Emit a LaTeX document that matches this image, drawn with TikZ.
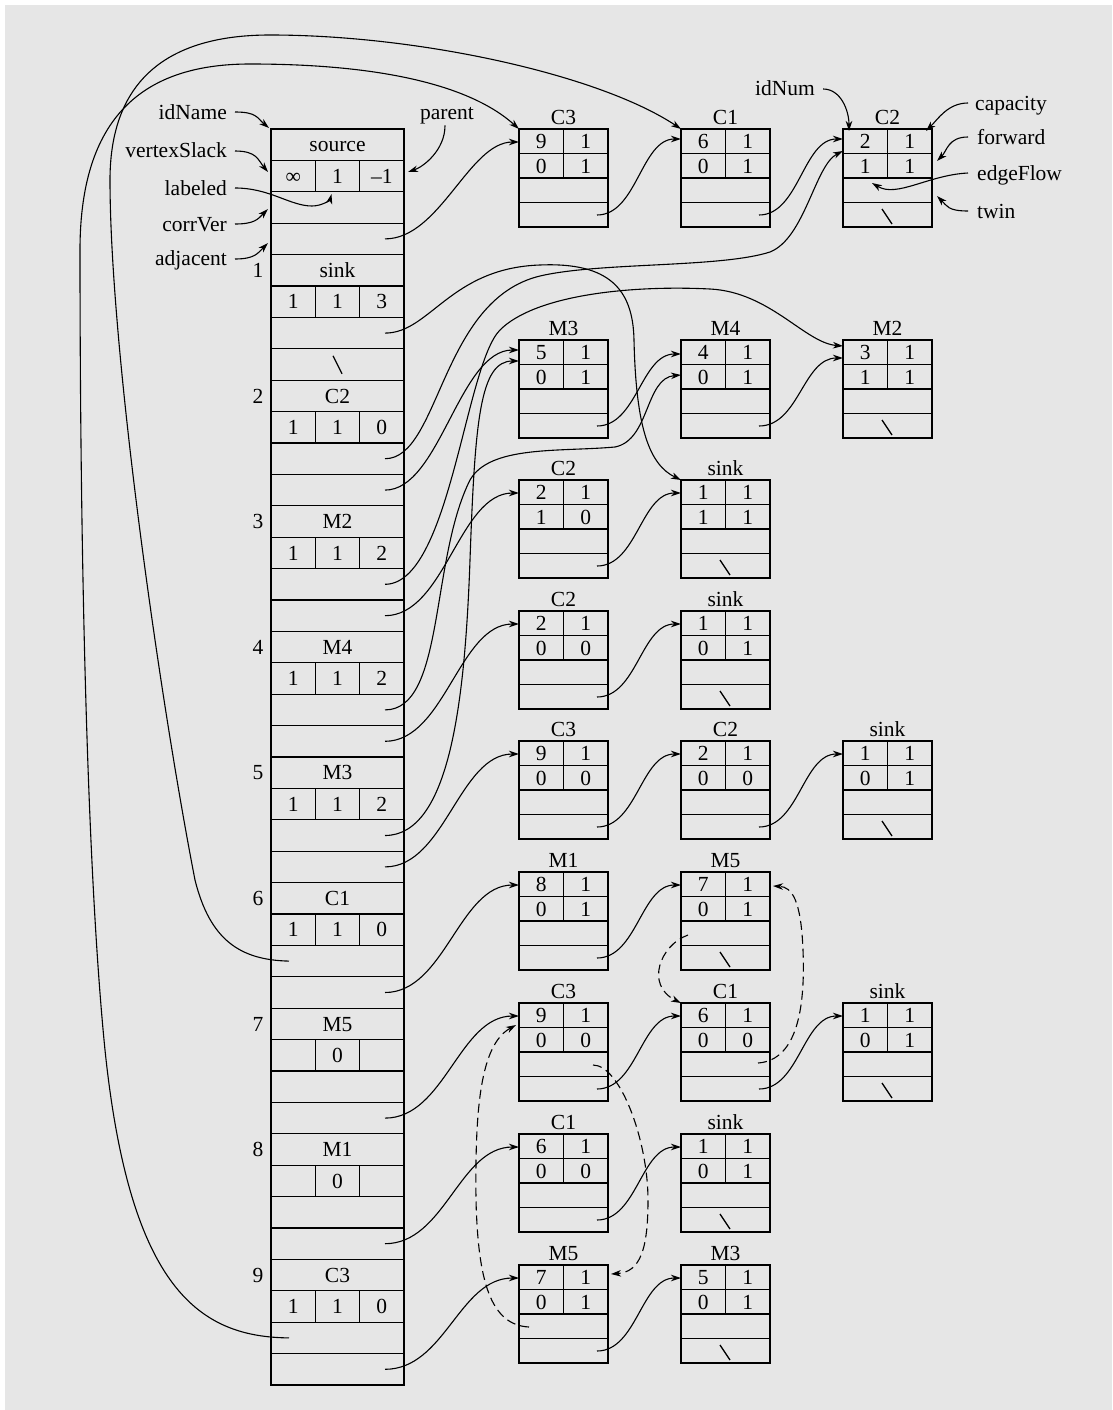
\documentclass[tikz,border=0pt]{standalone}
\usepackage{fontspec}
\setmainfont{Liberation Serif}
\usetikzlibrary{arrows.meta,calc}
\definecolor{bggray}{RGB}{230,230,230}
\tikzset{
  inln/.style={line width=1.3pt},
  boxst/.style={draw, line width=2.6pt, minimum width=89pt, minimum height=98pt, inner sep=0pt, outer sep=0pt},
  txt/.style={inner sep=0pt, text height=14.5pt, text depth=0pt},
  ptr/.style={line width=1.1pt, -{Stealth[length=10pt,width=6.5pt,inset=3pt]}},
  twinptr/.style={ptr, dash pattern=on 9pt off 5pt},
  nullst/.style={line width=1.3pt},
}
\newcommand\EB[9]{%
  \draw[inln] (#2,#3+24.5) -- ++(89,0) (#2,#3+49) -- ++(89,0) (#2,#3+73.5) -- ++(89,0) (#2+44.5,#3) -- ++(0,49);
  \node[boxst, anchor=north west] (#1) at (#2,#3) {};
  \node[txt] (#1-t) at (#2+44.5,#3-12) {#4};
  \node[txt] (#1-a) at (#2+22.25,#3+12.25) {#5};
  \node[txt] (#1-b) at (#2+66.75,#3+12.25) {#6};
  \node[txt] (#1-c) at (#2+22.25,#3+36.75) {#7};
  \node[txt] (#1-d) at (#2+66.75,#3+36.75) {#8};
  \coordinate (#1-in) at (#2,#3+13);
  \coordinate (#1-p) at (#2+78,#3+86);
  \ifnum#9=1 \draw[nullst] (#2+39,#3+80) -- (#2+49,#3+95);\fi
}
\begin{document}
\begin{tikzpicture}[x=1pt,y=-1pt,font=\fontsize{21.5}{24}\selectfont]
\fill[white] (0,0) rectangle (1112,1410);
\fill[bggray] (5,5) rectangle (1112,1410);
\useasboundingbox (0,0) rectangle (1112,1410);

% ---- vertex array ----
\foreach \r in {1,...,39} \draw[inln] (271,129+31.4*\r) -- ++(133,0);
\foreach \v in {0,...,9} \draw[inln] (315.3,160.4+125.6*\v) -- ++(0,31.4) (359.7,160.4+125.6*\v) -- ++(0,31.4);
\node[draw, line width=2.6pt, minimum width=133pt, minimum height=1256pt, inner sep=0pt, outer sep=0pt, anchor=north west] (arr) at (271,129) {};
\foreach \v/\nm/\a/\b/\c in {0/source/∞/1/–1, 1/sink/1/1/3, 2/C2/1/1/0, 3/M2/1/1/2, 4/M4/1/1/2, 5/M3/1/1/2, 6/C1/1/1/0, 7/M5/{}/0/{}, 8/M1/{}/0/{}, 9/C3/1/1/0}
{
  \node[txt] (vn\v) at (337.5,144.7+125.6*\v) {\nm};
  \node[txt] (va\v) at (293.2,176.1+125.6*\v) {\a};
  \node[txt] (vb\v) at (337.5,176.1+125.6*\v) {\b};
  \node[txt] (vc\v) at (381.8,176.1+125.6*\v) {\c};
}
\foreach \v in {1,...,9} \node[txt] (num\v) at (258,144.7+125.6*\v) {\v};
\draw[nullst] (333,129+31.4*7+7) -- (342,129+31.4*7+25);
\foreach \r in {3,6,10,11,14,15,18,19,22,23,27,31,35,39} \coordinate (p\r) at (385,144.7+31.4*\r);
\coordinate (q26) at (289,144.7+31.4*26);
\coordinate (q38) at (289,144.7+31.4*38);

% ---- edge boxes ----
\EB{bA1}{519}{129}{C3}{9}{1}{0}{1}{0}
\EB{bA2}{681}{129}{C1}{6}{1}{0}{1}{0}
\EB{bA3}{843}{129}{C2}{2}{1}{1}{1}{1}
\EB{bB1}{519}{340}{M3}{5}{1}{0}{1}{0}
\EB{bB2}{681}{340}{M4}{4}{1}{0}{1}{0}
\EB{bB3}{843}{340}{M2}{3}{1}{1}{1}{1}
\EB{bC1}{519}{480}{C2}{2}{1}{1}{0}{0}
\EB{bC2}{681}{480}{sink}{1}{1}{1}{1}{1}
\EB{bD1}{519}{611}{C2}{2}{1}{0}{0}{0}
\EB{bD2}{681}{611}{sink}{1}{1}{0}{1}{1}
\EB{bE1}{519}{741}{C3}{9}{1}{0}{0}{0}
\EB{bE2}{681}{741}{C2}{2}{1}{0}{0}{0}
\EB{bE3}{843}{741}{sink}{1}{1}{0}{1}{1}
\EB{bF1}{519}{872}{M1}{8}{1}{0}{1}{0}
\EB{bF2}{681}{872}{M5}{7}{1}{0}{1}{1}
\EB{bG1}{519}{1003}{C3}{9}{1}{0}{0}{0}
\EB{bG2}{681}{1003}{C1}{6}{1}{0}{0}{0}
\EB{bG3}{843}{1003}{sink}{1}{1}{0}{1}{1}
\EB{bH1}{519}{1134}{C1}{6}{1}{0}{0}{0}
\EB{bH2}{681}{1134}{sink}{1}{1}{0}{1}{1}
\EB{bI1}{519}{1265}{M5}{7}{1}{0}{1}{0}
\EB{bI2}{681}{1265}{M3}{5}{1}{0}{1}{1}

% ---- list pointers between boxes ----
\draw[ptr] (bA1-p) .. controls +(40,0) and +(-40,0) .. ($(bA2.north west)+(0,10)$);
\draw[ptr] (bA2-p) .. controls +(40,0) and +(-40,0) .. ($(bA3.north west)+(0,10)$);
\draw[ptr] (bB1-p) .. controls +(40,0) and +(-40,0) .. ($(bB2.north west)+(0,14)$);
\draw[ptr] (bB2-p) .. controls +(40,0) and +(-40,0) .. ($(bB3.north west)+(0,18)$);
\draw[ptr] (bC1-p) .. controls +(40,0) and +(-40,0) .. (bC2-in);
\draw[ptr] (bD1-p) .. controls +(40,0) and +(-40,0) .. (bD2-in);
\draw[ptr] (bE1-p) .. controls +(40,0) and +(-40,0) .. (bE2-in);
\draw[ptr] (bE2-p) .. controls +(40,0) and +(-40,0) .. (bE3-in);
\draw[ptr] (bF1-p) .. controls +(40,0) and +(-40,0) .. (bF2-in);
\draw[ptr] (bG1-p) .. controls +(40,0) and +(-40,0) .. (bG2-in);
\draw[ptr] (bG2-p) .. controls +(40,0) and +(-40,0) .. (bG3-in);
\draw[ptr] (bH1-p) .. controls +(40,0) and +(-40,0) .. (bH2-in);
\draw[ptr] (bI1-p) .. controls +(40,0) and +(-40,0) .. (bI2-in);

% ---- pointers from the vertex array ----
\draw[ptr] (p3) .. controls +(55,0) and +(-50,0) .. (bA1-in);
\draw[ptr] (p6) .. controls +(45,0) and (450,268) .. (540,265) .. controls (610,262) and (633,290) .. (634,340) .. controls (636,430) and (650,465) .. (bC2.north west);
\draw[ptr] (p10) .. controls +(55,0) and (440,300) .. (540,276) .. controls (600,262) and (720,268) .. (770,252) .. controls (805,238) and (815,165) .. ($(bA3.north west)+(0,22)$);
\draw[ptr] (p11) .. controls +(55,0) and +(-60,0) .. ($(bB1.north west)+(0,10)$);
\draw[ptr] (p14) .. controls +(65,0) and (465,365) .. (500,330) .. controls (535,295) and (630,285) .. (710,289) .. controls (770,292) and (805,343) .. ($(bB3.north west)+(0,6)$);
\draw[ptr] (p15) .. controls +(60,0) and +(-60,0) .. (bC1-in);
\draw[ptr] (p18) .. controls +(60,0) and (430,560) .. (470,480) .. controls (490,445) and (560,452) .. (615,447) .. controls (650,440) and (645,378) .. ($(bB2.north west)+(0,35)$);
\draw[ptr] (p19) .. controls +(60,0) and +(-60,0) .. (bD1-in);
\draw[ptr] (p22) .. controls +(65,0) and (465,700) .. (470,560) .. controls (475,420) and (480,361) .. ($(bB1.north west)+(0,21)$);
\draw[ptr] (p23) .. controls +(60,0) and +(-60,0) .. (bE1-in);
\draw[ptr] (p27) .. controls +(60,0) and +(-60,0) .. (bF1-in);
\draw[ptr] (p31) .. controls +(60,0) and +(-60,0) .. (bG1-in);
\draw[ptr] (p35) .. controls +(60,0) and +(-60,0) .. (bH1-in);
\draw[ptr] (p39) .. controls +(60,0) and +(-60,0) .. (bI1-in);
\draw[ptr] (q26) .. controls (240,960) and (210,940) .. (195,880) .. controls (160,700) and (110,350) .. (110,180) .. controls (110,70) and (180,35) .. (270,35) .. controls (420,35) and (600,75) .. (bA2.north west);
\draw[ptr] (q38) .. controls (200,1337) and (130,1290) .. (105,1050) .. controls (85,850) and (80,500) .. (80,250) .. controls (80,110) and (150,64) .. (250,64) .. controls (380,64) and (470,85) .. (bA1.north west);

% ---- twin pointers ----
\draw[twinptr] ($(bF2.north west)+(7,63)$) .. controls (660,945) and (645,985) .. (bG2.north west);
\draw[twinptr] ($(bG2.north west)+(77,60)$) .. controls (800,1060) and (805,1000) .. (803,950) .. controls (801,900) and (792,887) .. ($(bF2.north east)+(3,14)$);
\draw[twinptr] ($(bG1.north west)+(74,62)$) .. controls (620,1065) and (648,1140) .. (648,1200) .. controls (648,1250) and (640,1272) .. ($(bI1.north east)+(3,9)$);
\draw[twinptr] ($(bI1.north west)+(10,62)$) .. controls (490,1325) and (478,1280) .. (476,1200) .. controls (475,1110) and (480,1045) .. ($(bG1.north west)+(-3,22)$);

% ---- field labels ----
\node[txt, anchor=east] (lidn) at (227,112) {idName};
\node[txt, anchor=east] (lvs) at (227,150) {vertexSlack};
\node[txt, anchor=east] (llab) at (227,188) {labeled};
\node[txt, anchor=east] (lcv) at (227,224) {corrVer};
\node[txt, anchor=east] (ladj) at (227,258) {adjacent};
\node[txt] (lpar) at (447,112) {parent};
\node[txt] (lidnum) at (785,88) {idNum};
\node[txt, anchor=west] (lcap) at (975,103) {capacity};
\node[txt, anchor=west] (lfw) at (977,137) {forward};
\node[txt, anchor=west] (lef) at (977,173) {edgeFlow};
\node[txt, anchor=west] (ltw) at (977,211) {twin};

\draw[ptr] ($(lidn.east)+(8,0)$) .. controls +(22,0) and +(-12,-10) .. ($(arr.north west)+(-2,-1)$);
\draw[ptr] ($(lvs.east)+(8,1)$) .. controls +(22,0) and +(-10,-12) .. ($(arr.north west)+(-3,43)$);
\draw[ptr] ($(llab.east)+(8,0)$) .. controls +(35,0) and (290,206) .. (312,206) .. controls (322,206) and (330,200) .. ($(vb0)+(-6,18)$);
\draw[ptr] ($(lcv.east)+(8,0)$) .. controls +(20,0) and +(-10,10) .. ($(arr.north west)+(-3,80)$);
\draw[ptr] ($(ladj.east)+(8,1)$) .. controls +(20,0) and +(-10,10) .. ($(arr.north west)+(-3,114)$);
\draw[ptr] ($(lpar.south)+(-2,6)$) .. controls +(0,25) and +(15,-5) .. ($(arr.north east)+(4,43)$);
\draw[ptr] ($(lidnum.east)+(8,1)$) .. controls +(18,0) and +(0,-20) .. ($(bA3.north west)+(6,2)$);
\draw[ptr] ($(lcap.west)+(-7,0)$) .. controls +(-20,0) and +(12,-12) .. ($(bA3.north east)+(-6,2)$);
\draw[ptr] ($(lfw.west)+(-9,0)$) .. controls +(-20,0) and +(10,-10) .. ($(bA3.north east)+(5,32)$);
\draw[ptr] ($(lef.west)+(-9,0)$) .. controls +(-40,2) and +(25,15) .. ($(bA3.north west)+(29,54)$);
\draw[ptr] ($(ltw.west)+(-9,0)$) .. controls +(-20,0) and +(10,10) .. ($(bA3.north east)+(5,67)$);
\end{tikzpicture}
\end{document}
